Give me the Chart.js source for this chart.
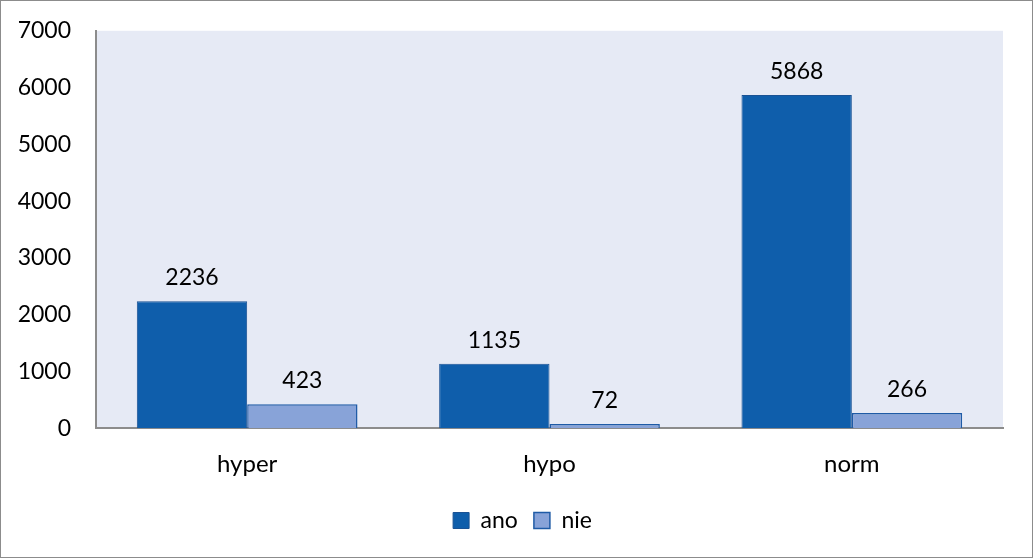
<!DOCTYPE html>
<html>
<head>
<meta charset="utf-8">
<script src="https://cdn.jsdelivr.net/npm/chart.js@4"></script>
<style>
  html, body { margin: 0; padding: 0; background: #fff; }
  #wrap { width: 1033px; height: 558px; position: relative; }
</style>
</head>
<body>
<div id="wrap"><canvas id="myChart"></canvas></div>
<script>
'use strict';

/** Data */
let categories = ['hyper', 'hypo', 'norm'];
let anoValues = [2236, 1135, 5868];
let nieValues = [423, 72, 266];
let seriesNames = ['ano', 'nie'];

let fontFamily = 'Lato, "Open Sans", sans-serif';
let fontSize = 23;

// plot area background + outer frame
let backgroundPlugin = {
  id: 'plotBackground',
  afterLayout(chart) {
    // legend is centred on the whole frame, not on the padded box
    chart.legend.left += 21;
    chart.legend.right += 21;
  },
  beforeDraw(chart) {
    let c = chart.ctx;
    let a = chart.chartArea;
    c.save();
    c.fillStyle = '#E6EAF5';
    c.fillRect(a.left, a.top, a.right - a.left, a.bottom - a.top);
    c.restore();
  },
  afterDraw(chart) {
    let c = chart.ctx;
    c.save();
    c.strokeStyle = '#8C8C8C';
    c.lineWidth = 1;
    c.strokeRect(0.5, 0.5, chart.width - 1, chart.height - 1);
    c.restore();
  }
};

// value labels above each bar
let valueLabels = {
  id: 'valueLabels',
  afterDatasetsDraw(chart) {
    let c = chart.ctx;
    c.save();
    c.font = fontSize + 'px ' + fontFamily;
    c.fillStyle = '#000';
    c.textAlign = 'center';
    c.textBaseline = 'bottom';
    chart.data.datasets.forEach((ds, i) => {
      chart.getDatasetMeta(i).data.forEach((bar, j) => {
        c.fillText(ds.data[j], bar.x, bar.y - 12);
      });
    });
    c.restore();
  }
};

let ctx = document.getElementById('myChart');

new Chart(ctx, {
  type: 'bar',
  data: {
    labels: categories,
    datasets: [{
      label: seriesNames[0],
      data: anoValues,
      backgroundColor: '#0F5EAB',
      borderColor: '#1A5294',
      borderWidth: 1
    },
    {
      label: seriesNames[1],
      data: nieValues,
      backgroundColor: '#88A3D8',
      borderColor: '#1F5BA6',
      borderWidth: 1.5
    }]
  },
  options: {
    responsive: true,
    maintainAspectRatio: false,
    animation: false,
    layout: { padding: { top: 18, right: 30, left: 0, bottom: 16 } },
    datasets: {
      bar: { categoryPercentage: 0.73, barPercentage: 1 }
    },
    scales: {
      x: {
        grid: { display: false },
        border: { display: true, color: '#8C8C8C', width: 2 },
        ticks: { color: '#000', font: { family: fontFamily, size: 24 }, padding: 14 }
      },
      y: {
        min: 0,
        max: 7000,
        afterFit(scale) { scale.width = 96; },
        grid: { display: false },
        border: { display: true, color: '#8C8C8C', width: 2 },
        ticks: {
          stepSize: 1000,
          color: '#000',
          font: { family: fontFamily, size: fontSize },
          padding: 17,
          callback: (v) => String(v)
        }
      }
    },
    plugins: {
      tooltip: { enabled: false },
      legend: {
        position: 'bottom',
        labels: {
          color: '#000',
          font: { family: fontFamily, size: fontSize },
          boxWidth: 16,
          boxHeight: 16,
          padding: 16
        }
      }
    }
  },
  plugins: [backgroundPlugin, valueLabels]
});
</script>
</body>
</html>
